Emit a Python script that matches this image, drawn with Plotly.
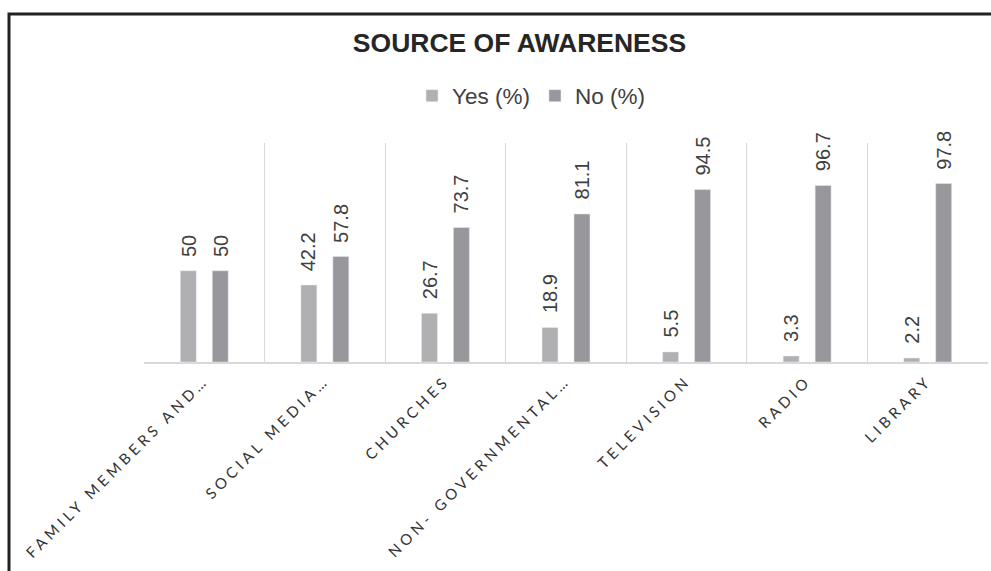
import plotly.graph_objects as go

categories = ["FAMILY MEMBERS AND…", "SOCIAL MEDIA…", "CHURCHES", "NON- GOVERNMENTAL…",
              "TELEVISION", "RADIO", "LIBRARY"]
yes_pct = [50, 42.2, 26.7, 18.9, 5.5, 3.3, 2.2]
no_pct = [50, 57.8, 73.7, 81.1, 94.5, 96.7, 97.8]
series_names = ["Yes (%)", "No (%)"]
title_text = "SOURCE OF AWARENESS"

YES_COLOR = "#b0b0b3"
NO_COLOR = "#98989c"
TEXT_COLOR = "#404040"

W, H = 991, 571
ML, MR, MT, MB = 144, 3, 143, 209

fig = go.Figure()
fig.add_trace(go.Bar(x=categories, y=yes_pct, name=series_names[0], marker_color=YES_COLOR))
fig.add_trace(go.Bar(x=categories, y=no_pct, name=series_names[1], marker_color=NO_COLOR))

annotations = []
for vals, shift in ((yes_pct, -16), (no_pct, 16)):
    for c, v in zip(categories, vals):
        annotations.append(dict(
            x=c, y=v, xref="x", yref="y", text=str(v), showarrow=False,
            textangle=-90, xshift=shift, yshift=12, yanchor="bottom", xanchor="center",
            font=dict(family="Liberation Sans, Arial", size=20, color=TEXT_COLOR)))

fig.update_layout(
    width=W, height=H,
    margin=dict(l=ML, r=MR, t=MT, b=MB),
    paper_bgcolor="white", plot_bgcolor="white",
    barmode="group", bargap=0.47, bargroupgap=0.5,
    title=dict(text="<b>" + title_text + "</b>", x=519.5 / W, xref="container", xanchor="center",
               y=1 - 43 / H, yanchor="middle",
               font=dict(family="Liberation Sans, Arial", size=26.5, color="#262626")),
    legend=dict(orientation="h", x=531 / W, xref="container", xanchor="center",
                y=1 - 96 / H, yref="container", yanchor="middle",
                font=dict(family="Liberation Sans, Arial", size=22.5, color=TEXT_COLOR),
                itemwidth=30, traceorder="normal"),
    xaxis=dict(type="category", tickson="boundaries", showgrid=True, gridcolor="#d9d9d9",
               gridwidth=1, showline=True, linecolor="#d9d9d9", linewidth=2,
               ticks="", tickangle=-45, ticklabelstandoff=2,
               tickfont=dict(family="Lato", size=15, color="#333333")),
    yaxis=dict(range=[0, 120], showgrid=False, showticklabels=False, zeroline=False,
               showline=False),
    annotations=annotations,
    shapes=[dict(type="rect", xref="paper", yref="paper",
                 x0=(9 - ML) / (W - ML - MR), x1=1.2,
                 y0=-1.5, y1=(H - MB - 14) / (H - MT - MB),
                 line=dict(color="#222222", width=3), fillcolor="rgba(0,0,0,0)", layer="above")],
    showlegend=True,
)

post = """
var st = document.createElement('style');
st.innerHTML = 'body { margin: 0 !important; } .xtick text { letter-spacing: 4px; }';
document.head.appendChild(st);
"""
fig.write_html("out.html", post_script=post, config={"displayModeBar": False})
